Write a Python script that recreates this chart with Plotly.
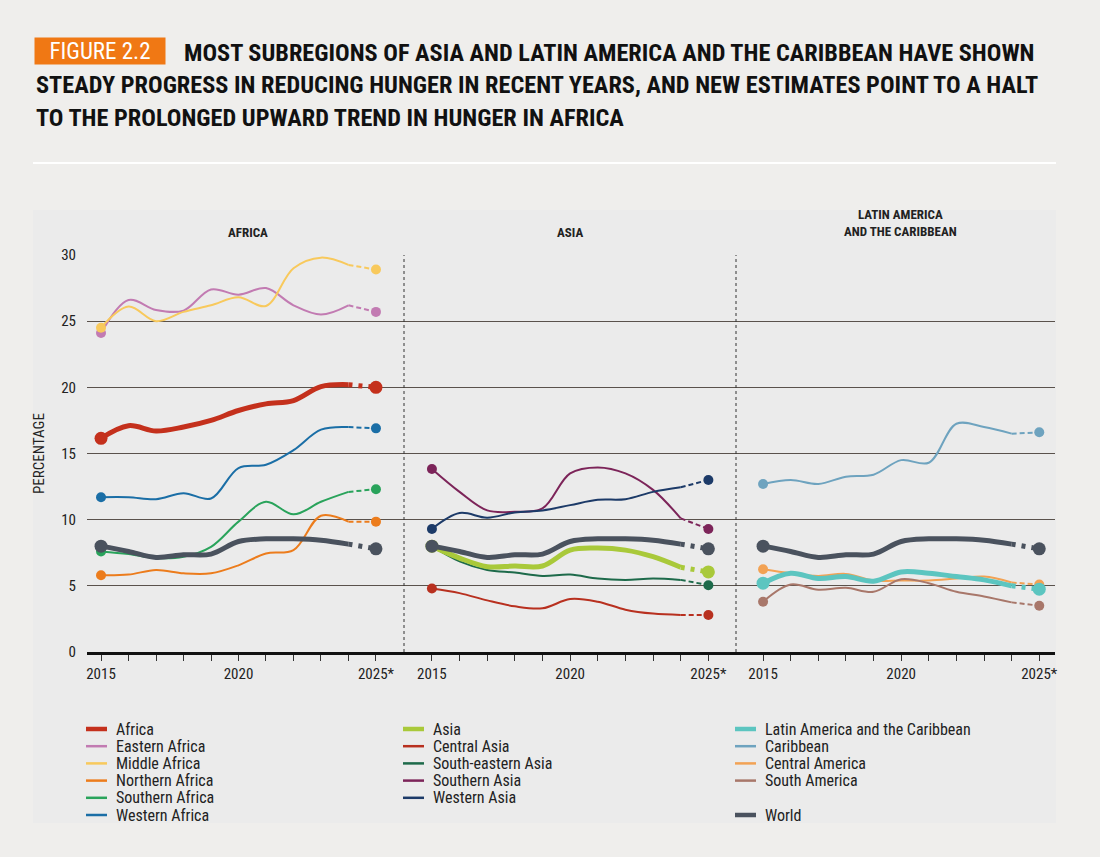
import plotly.graph_objects as go

# ---- data (prevalence of undernourishment, %) ----
years = [2015, 2016, 2017, 2018, 2019, 2020, 2021, 2022, 2023, 2024, 2025]
tick_text = ["2015", "", "", "", "", "2020", "", "", "", "", "2025*"]
y_ticks = [0, 5, 10, 15, 20, 25, 30]

world = [8.0, 7.6, 7.15, 7.35, 7.4, 8.35, 8.55, 8.55, 8.45, 8.15, 7.8]

africa = [16.15, 17.1, 16.7, 17.0, 17.5, 18.25, 18.75, 19.0, 20.05, 20.2, 20.0]
eastern_africa = [24.1, 26.6, 25.85, 25.8, 27.4, 27.0, 27.5, 26.2, 25.5, 26.2, 25.7]
middle_africa = [24.5, 26.1, 25.0, 25.7, 26.2, 26.8, 26.15, 29.0, 29.8, 29.25, 28.9]
northern_africa = [5.8, 5.85, 6.2, 5.95, 5.95, 6.55, 7.45, 7.7, 10.3, 9.85, 9.85]
southern_africa = [7.6, 7.4, 7.1, 7.2, 7.95, 9.85, 11.35, 10.4, 11.35, 12.1, 12.3]
western_africa = [11.7, 11.7, 11.55, 12.0, 11.6, 13.9, 14.15, 15.25, 16.8, 17.0, 16.9]

asia = [8.0, 7.1, 6.45, 6.5, 6.5, 7.7, 7.85, 7.7, 7.2, 6.4, 6.05]
central_asia = [4.8, 4.45, 3.9, 3.45, 3.3, 4.0, 3.8, 3.2, 2.9, 2.8, 2.8]
south_eastern_asia = [8.0, 6.85, 6.2, 6.0, 5.75, 5.85, 5.55, 5.45, 5.55, 5.45, 5.05]
southern_asia = [13.83, 12.1, 10.7, 10.6, 10.85, 13.5, 13.95, 13.5, 12.25, 10.1, 9.3]
western_asia = [9.3, 10.5, 10.15, 10.55, 10.7, 11.1, 11.5, 11.55, 12.1, 12.45, 13.0]

lac = [5.2, 5.95, 5.55, 5.7, 5.35, 6.05, 5.95, 5.7, 5.45, 5.0, 4.75]
caribbean = [12.7, 13.0, 12.7, 13.25, 13.4, 14.5, 14.3, 17.25, 17.0, 16.5, 16.6]
central_america = [6.25, 5.95, 5.75, 5.9, 5.4, 5.4, 5.4, 5.55, 5.7, 5.25, 5.1]
south_america = [3.8, 5.1, 4.7, 4.85, 4.55, 5.5, 5.2, 4.55, 4.2, 3.75, 3.5]

# (name, values, colour, thick)
panels = [
    ("x", [
        ("Africa", africa, "#c4301c", True),
        ("Eastern Africa", eastern_africa, "#c27bb2", False),
        ("Middle Africa", middle_africa, "#f8c95c", False),
        ("Northern Africa", northern_africa, "#ec7c1c", False),
        ("Southern Africa", southern_africa, "#29a35b", False),
        ("Western Africa", western_africa, "#1a6ea6", False),
    ]),
    ("x2", [
        ("Asia", asia, "#a9c93a", True),
        ("Central Asia", central_asia, "#b8301f", False),
        ("South-eastern Asia", south_eastern_asia, "#1d6a4a", False),
        ("Southern Asia", southern_asia, "#7c2459", False),
        ("Western Asia", western_asia, "#1c3a68", False),
    ]),
    ("x3", [
        ("Latin America and the Caribbean", lac, "#5cc5c0", True),
        ("Caribbean", caribbean, "#6ea3bf", False),
        ("Central America", central_america, "#f2a254", False),
        ("South America", south_america, "#a8776a", False),
    ]),
]
world_entry = ("World", world, "#4a525e", True)

FONT = "Roboto Condensed, DejaVu Sans Condensed, sans-serif"
W, H = 1100, 857
L, R, T, B = 87, 45, 255, 205
PW, PH = W - L - R, H - T - B


def px(xp):
    return (xp - L) / PW


def py(yp):
    return (H - B - yp) / PH


fig = go.Figure()


def add_series(xa, vals, color, thick):
    width = 5 if thick else 2
    fig.add_trace(go.Scatter(
        x=years[:10], y=vals[:10], xaxis=xa, yaxis="y", mode="lines",
        line=dict(color=color, width=width, shape="spline", smoothing=1.0),
        hoverinfo="skip", showlegend=False))
    fig.add_trace(go.Scatter(
        x=years[9:], y=vals[9:], xaxis=xa, yaxis="y", mode="lines",
        line=dict(color=color, width=width,
                  dash="4px,6px" if thick else "5px,3px"),
        hoverinfo="skip", showlegend=False))
    fig.add_trace(go.Scatter(
        x=[years[0], years[-1]], y=[vals[0], vals[-1]], xaxis=xa, yaxis="y",
        mode="markers", marker=dict(color=color, size=13 if thick else 10),
        hoverinfo="skip", showlegend=False))


for xa, series in panels:
    for name, vals, color, thick in series[1:]:
        add_series(xa, vals, color, thick)
    name, vals, color, thick = series[0]
    add_series(xa, vals, color, thick)
    add_series(xa, world_entry[1], world_entry[2], True)

# axes
domains = [[0, px(404)], [px(404), px(736)], [px(736), 1]]
ranges = [[2014.49, 2026.02], [2013.99, 2026.0], [2014.02, 2025.57]]
for i, key in enumerate(["xaxis", "xaxis2", "xaxis3"]):
    fig.update_layout({key: dict(
        domain=domains[i], range=ranges[i], anchor="y",
        tickvals=years, ticktext=tick_text, ticks="outside", ticklen=6,
        tickcolor="#333", tickwidth=1, showgrid=False, zeroline=False,
        showline=True, linecolor="#111", linewidth=2.5,
        tickfont=dict(family=FONT, size=15, color="#222"))})

fig.update_layout(
    yaxis=dict(range=[0, 30], tickvals=y_ticks, showgrid=True,
               gridcolor="#5a524c", gridwidth=1.3, zeroline=False,
               showline=False, ticks="", ticklabelstandoff=10,
               tickfont=dict(family=FONT, size=15, color="#222"),
               title=dict(text="PERCENTAGE", standoff=12,
                          font=dict(family=FONT, size=15, color="#222"))),
    width=W, height=H,
    margin=dict(l=L, r=R, t=T, b=B),
    paper_bgcolor="#efeeec", plot_bgcolor="rgba(0,0,0,0)",
    font=dict(family=FONT, color="#222"),
    showlegend=False,
)

shapes = [
    # chart panel background
    dict(type="rect", xref="paper", yref="paper", layer="below",
         x0=px(33), x1=px(1056), y0=py(823), y1=py(210),
         fillcolor="#ebebeb", line=dict(width=0)),
    # white separator under the title
    dict(type="line", xref="paper", yref="paper", x0=px(33), x1=px(1056),
         y0=py(163), y1=py(163), line=dict(color="#ffffff", width=2)),
]
for xs in [404, 736]:
    shapes.append(dict(type="line", xref="paper", yref="paper",
                       x0=px(xs), x1=px(xs), y0=0, y1=1,
                       line=dict(color="#333", width=1, dash="dot")))

annotations = [
    dict(text="FIGURE 2.2", x=px(34), y=py(51), xref="paper", yref="paper",
         xanchor="left", yanchor="middle", showarrow=False,
         width=126, height=22, align="center",
         bgcolor="#f07814", borderpad=2,
         font=dict(family=FONT, size=23, color="#ffffff")),
]
title_lines = [
    ("MOST SUBREGIONS OF ASIA AND LATIN AMERICA AND THE CARIBBEAN HAVE SHOWN", 182, 52),
    ("STEADY PROGRESS IN REDUCING HUNGER IN RECENT YEARS, AND NEW ESTIMATES POINT TO A HALT", 34, 85),
    ("TO THE PROLONGED UPWARD TREND IN HUNGER IN AFRICA", 34, 117),
]
for txt, x0, y0 in title_lines:
    annotations.append(dict(
        text="<b>" + txt + "</b>", x=px(x0), y=py(y0), xref="paper", yref="paper",
        xanchor="left", yanchor="middle", showarrow=False,
        font=dict(family=FONT, size=24.3, color="#111")))

headers = [("<b>AFRICA</b>", 248, 232), ("<b>ASIA</b>", 570, 232),
           ("<b>LATIN AMERICA<br>AND THE CARIBBEAN</b>", 900, 223)]
for txt, xh, yh in headers:
    annotations.append(dict(
        text=txt, x=px(xh), y=py(yh), xref="paper", yref="paper",
        xanchor="center", yanchor="middle", showarrow=False,
        font=dict(family=FONT, size=13, color="#222")))

# legend drawn by hand: three columns, World under the third
legend_cols = [(86, 114), (403, 431), (735, 763)]
for (xa, series), (sx, tx) in zip(panels, legend_cols):
    entries = list(series)
    if xa == "x3":
        entries = entries + [None, world_entry]
    for row, entry in enumerate(entries):
        if entry is None:
            continue
        name, vals, color, thick = entry
        yrow = 729 + 17.2 * row
        shapes.append(dict(type="line", xref="paper", yref="paper",
                           x0=px(sx), x1=px(sx + 21), y0=py(yrow), y1=py(yrow),
                           line=dict(color=color, width=4.5 if thick else 2.5)))
        annotations.append(dict(
            text=name, x=px(tx), y=py(yrow), xref="paper", yref="paper",
            xanchor="left", yanchor="middle", showarrow=False,
            font=dict(family=FONT, size=16, color="#222")))

fig.update_layout(shapes=shapes, annotations=annotations)
fig.write_html("out.html", config={"displayModeBar": False},
               post_script="document.body.style.margin='0';")
